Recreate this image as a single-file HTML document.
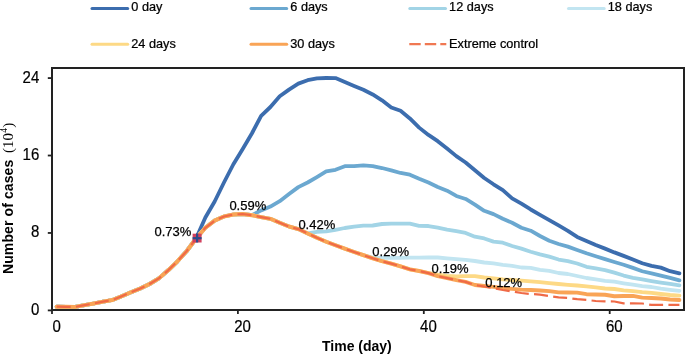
<!DOCTYPE html>
<html><head><meta charset="utf-8"><style>
html,body{margin:0;padding:0;background:#fff;}
body{width:685px;height:357px;overflow:hidden;}
svg{display:block;will-change:transform;}
text{font-family:"Liberation Sans",sans-serif;fill:#000;}
.tk{font-size:16.5px;stroke:#000;stroke-width:0.2px;}
.lg{font-size:13px;stroke:#000;stroke-width:0.25px;}
.ax{font-size:14px;font-weight:bold;}
.sf{font-family:"Liberation Serif",serif;font-size:15px;font-weight:normal;}
</style></head><body>
<svg width="685" height="357" viewBox="0 0 685 357">
<rect width="685" height="357" fill="#fff"/>
<line x1="92.0" y1="8.4" x2="127.7" y2="8.4" stroke="#3C6DAE" stroke-width="3" stroke-linecap="round"/>
<text transform="translate(131.3,11.2) scale(0.978,1)" class="lg">0 day</text>
<line x1="251.0" y1="8.4" x2="286.7" y2="8.4" stroke="#6BA8D0" stroke-width="3" stroke-linecap="round"/>
<text transform="translate(290.3,11.2) scale(0.978,1)" class="lg">6 days</text>
<line x1="409.8" y1="8.4" x2="445.5" y2="8.4" stroke="#A2D4E6" stroke-width="3" stroke-linecap="round"/>
<text transform="translate(449.1,11.2) scale(0.978,1)" class="lg">12 days</text>
<line x1="568.5" y1="8.4" x2="604.2" y2="8.4" stroke="#C2E5F1" stroke-width="3" stroke-linecap="round"/>
<text transform="translate(607.8,11.2) scale(0.978,1)" class="lg">18 days</text>
<line x1="92.0" y1="44.2" x2="127.7" y2="44.2" stroke="#FDD985" stroke-width="3" stroke-linecap="round"/>
<text transform="translate(131.3,47.7) scale(0.978,1)" class="lg">24 days</text>
<line x1="251.0" y1="44.2" x2="286.7" y2="44.2" stroke="#F9A456" stroke-width="3" stroke-linecap="round"/>
<text transform="translate(290.3,47.7) scale(0.978,1)" class="lg">30 days</text>
<line x1="409.3" y1="44.2" x2="446.3" y2="44.2" stroke="#F07852" stroke-width="2.2" stroke-dasharray="11.4 4.1"/>
<text transform="translate(449.1,47.7) scale(0.978,1)" class="lg">Extreme control</text>
<polyline points="56.65,306.70 65.94,306.80 75.24,306.90 84.53,305.20 93.83,303.50 103.12,301.70 112.42,300.00 121.71,296.20 131.01,292.30 140.30,288.50 149.60,284.00 158.89,278.40 168.19,270.30 177.48,261.30 186.78,251.00 196.07,238.50 205.37,217.50 214.66,201.50 223.96,182.50 233.25,164.50 242.55,149.20 251.84,133.50 261.14,115.80 270.43,107.00 279.73,96.30 289.02,89.60 298.32,83.60 307.61,80.20 316.91,78.40 326.20,78.00 335.50,78.10 344.79,82.01 354.09,85.93 363.38,89.79 372.68,94.44 381.97,100.31 391.27,107.45 400.56,110.83 409.86,118.46 419.15,127.63 428.45,134.93 437.74,141.17 447.04,148.57 456.33,156.13 465.63,162.45 474.92,170.23 484.22,178.01 493.51,184.28 502.81,190.09 512.10,198.37 521.40,203.68 530.69,209.48 539.99,214.84 549.28,220.12 558.58,225.47 567.87,230.89 577.17,236.96 586.46,240.94 595.76,245.01 605.05,248.62 614.35,252.39 623.64,255.88 632.94,259.48 642.23,263.28 651.53,265.92 660.82,267.63 670.12,271.16 679.41,273.30" fill="none" stroke="#3C6DAE" stroke-width="3.8" stroke-linejoin="round" stroke-linecap="round"/>
<polyline points="56.65,306.70 65.94,306.80 75.24,306.90 84.53,305.20 93.83,303.50 103.12,301.70 112.42,300.00 121.71,296.20 131.01,292.30 140.30,288.50 149.60,284.00 158.89,278.40 168.19,270.30 177.48,261.30 186.78,251.00 196.07,238.50 205.37,227.80 214.66,220.60 223.96,216.50 233.25,214.50 242.55,214.00 251.84,215.20 261.14,210.40 270.43,206.60 279.73,201.20 289.02,194.00 298.32,187.10 307.61,182.49 316.91,177.07 326.20,171.38 335.50,169.79 344.79,166.20 354.09,166.05 363.38,165.46 372.68,166.08 381.97,168.02 391.27,170.32 400.56,172.97 409.86,174.70 419.15,178.70 428.45,182.42 437.74,186.97 447.04,190.68 456.33,195.94 465.63,198.98 474.92,204.66 484.22,210.79 493.51,214.16 502.81,218.80 512.10,222.80 521.40,227.73 530.69,230.71 539.99,236.01 549.28,240.72 558.58,244.01 567.87,246.66 577.17,249.97 586.46,253.29 595.76,256.25 605.05,259.15 614.35,262.03 623.64,264.78 632.94,267.90 642.23,271.23 651.53,273.33 660.82,275.61 670.12,277.88 679.41,280.40" fill="none" stroke="#6BA8D0" stroke-width="3.8" stroke-linejoin="round" stroke-linecap="round"/>
<polyline points="56.65,306.70 65.94,306.80 75.24,306.90 84.53,305.20 93.83,303.50 103.12,301.70 112.42,300.00 121.71,296.20 131.01,292.30 140.30,288.50 149.60,284.00 158.89,278.40 168.19,270.30 177.48,261.30 186.78,251.00 196.07,238.50 205.37,227.80 214.66,220.60 223.96,216.50 233.25,214.50 242.55,214.00 251.84,215.20 261.14,217.10 270.43,218.80 279.73,222.80 289.02,226.50 298.32,229.10 307.61,233.40 316.91,231.90 326.20,231.40 335.50,229.80 344.79,228.00 354.09,226.60 363.38,225.60 372.68,225.50 381.97,224.00 391.27,223.60 400.56,223.60 409.86,223.70 419.15,225.80 428.45,226.02 437.74,227.66 447.04,229.64 456.33,231.21 465.63,232.94 474.92,236.67 484.22,238.46 493.51,241.61 502.81,242.68 512.10,246.02 521.40,248.65 530.69,251.70 539.99,254.40 549.28,256.69 558.58,259.54 567.87,261.09 577.17,263.49 586.46,266.80 595.76,268.26 605.05,270.06 614.35,272.67 623.64,275.53 632.94,277.78 642.23,279.37 651.53,281.02 660.82,282.57 670.12,283.97 679.41,285.30" fill="none" stroke="#A2D4E6" stroke-width="3.8" stroke-linejoin="round" stroke-linecap="round"/>
<polyline points="56.65,306.70 65.94,306.80 75.24,306.90 84.53,305.20 93.83,303.50 103.12,301.70 112.42,300.00 121.71,296.20 131.01,292.30 140.30,288.50 149.60,284.00 158.89,278.40 168.19,270.30 177.48,261.30 186.78,251.00 196.07,238.50 205.37,227.80 214.66,220.60 223.96,216.50 233.25,214.50 242.55,214.00 251.84,215.20 261.14,217.10 270.43,218.80 279.73,222.80 289.02,226.50 298.32,229.10 307.61,233.40 316.91,237.80 326.20,241.70 335.50,245.30 344.79,248.70 354.09,252.00 363.38,255.10 372.68,257.60 381.97,257.80 391.27,257.80 400.56,257.80 409.86,257.70 419.15,257.60 428.45,257.50 437.74,257.50 447.04,258.40 456.33,259.20 465.63,259.90 474.92,261.00 484.22,262.50 493.51,263.30 502.81,264.80 512.10,265.80 521.40,267.50 530.69,267.80 539.99,269.80 549.28,270.80 558.58,273.00 567.87,274.00 577.17,276.00 586.46,278.00 595.76,279.40 605.05,280.80 614.35,281.70 623.64,283.30 632.94,284.70 642.23,286.10 651.53,287.00 660.82,288.60 670.12,289.80 679.41,290.90" fill="none" stroke="#C2E5F1" stroke-width="3.8" stroke-linejoin="round" stroke-linecap="round"/>
<polyline points="56.65,306.70 65.94,306.80 75.24,306.90 84.53,305.20 93.83,303.50 103.12,301.70 112.42,300.00 121.71,296.20 131.01,292.30 140.30,288.50 149.60,284.00 158.89,278.40 168.19,270.30 177.48,261.30 186.78,251.00 196.07,238.50 205.37,227.80 214.66,220.60 223.96,216.50 233.25,214.50 242.55,214.00 251.84,215.20 261.14,217.10 270.43,218.80 279.73,222.80 289.02,226.50 298.32,229.10 307.61,233.40 316.91,237.80 326.20,241.70 335.50,245.30 344.79,248.70 354.09,252.00 363.38,255.10 372.68,258.30 381.97,261.20 391.27,263.60 400.56,266.40 409.86,269.30 419.15,271.00 428.45,273.00 437.74,274.60 447.04,275.80 456.33,276.30 465.63,276.20 474.92,276.10 484.22,277.50 493.51,278.30 502.81,279.30 512.10,280.00 521.40,280.60 530.69,281.30 539.99,282.10 549.28,283.10 558.58,284.00 567.87,284.80 577.17,285.50 586.46,286.30 595.76,287.30 605.05,288.50 614.35,289.00 623.64,290.30 632.94,291.20 642.23,292.20 651.53,292.90 660.82,294.00 670.12,295.00 679.41,295.60" fill="none" stroke="#FDD985" stroke-width="3.8" stroke-linejoin="round" stroke-linecap="round"/>
<polyline points="56.65,306.70 65.94,306.80 75.24,306.90 84.53,305.20 93.83,303.50 103.12,301.70 112.42,300.00 121.71,296.20 131.01,292.30 140.30,288.50 149.60,284.00 158.89,278.40 168.19,270.30 177.48,261.30 186.78,251.00 196.07,238.50 205.37,227.80 214.66,220.60 223.96,216.50 233.25,214.50 242.55,214.00 251.84,215.20 261.14,217.10 270.43,218.80 279.73,222.80 289.02,226.50 298.32,229.10 307.61,233.40 316.91,237.80 326.20,241.70 335.50,245.30 344.79,248.70 354.09,252.00 363.38,255.10 372.68,258.30 381.97,261.20 391.27,263.60 400.56,266.40 409.86,269.30 419.15,271.00 428.45,273.10 437.74,276.20 447.04,278.20 456.33,280.10 465.63,281.90 474.92,285.00 484.22,286.00 493.51,286.90 502.81,287.90 512.10,288.90 521.40,289.60 530.69,290.00 539.99,290.50 549.28,291.10 558.58,292.40 567.87,292.50 577.17,292.60 586.46,294.20 595.76,294.50 605.05,294.80 614.35,296.20 623.64,296.00 632.94,295.90 642.23,297.60 651.53,298.00 660.82,298.50 670.12,299.50 679.41,300.00" fill="none" stroke="#F9A456" stroke-width="3.9" stroke-linejoin="round" stroke-linecap="round"/>
<polyline points="56.65,306.70 65.94,306.80 75.24,306.90 84.53,305.20 93.83,303.50 103.12,301.70 112.42,300.00 121.71,296.20 131.01,292.30 140.30,288.50 149.60,284.00 158.89,278.40 168.19,270.30 177.48,261.30 186.78,251.00 196.07,238.50 205.37,227.80 214.66,220.60 223.96,216.50 233.25,214.50 242.55,214.00 251.84,215.20 261.14,217.10 270.43,218.80 279.73,222.80 289.02,226.50 298.32,229.10 307.61,233.40 316.91,237.80 326.20,241.70 335.50,245.30 344.79,248.70 354.09,252.00 363.38,255.10 372.68,258.30 381.97,261.20 391.27,263.60 400.56,266.40 409.86,269.30 419.15,271.00 428.45,273.10 437.74,276.20 447.04,278.20 456.33,280.10 465.63,281.90 474.92,285.00 484.22,286.50 493.51,288.20 502.81,290.00 512.10,291.50 521.40,293.00 530.69,294.00 539.99,294.60 549.28,296.00 558.58,297.40 567.87,298.00 577.17,299.20 586.46,299.90 595.76,301.00 605.05,301.30 614.35,301.50 623.64,303.40 632.94,303.40 642.23,303.50 651.53,304.90 660.82,304.90 670.12,304.90 679.41,304.90" fill="none" stroke="#EF6A47" stroke-width="2.2" stroke-dasharray="14 5.3" stroke-linejoin="round"/>
<rect x="192.6" y="233.7" width="9" height="8.8" fill="#D1415E"/>
<line x1="192.6" y1="238.2" x2="201.6" y2="238.2" stroke="#2C4C8C" stroke-width="2.2"/>
<line x1="197.1" y1="233.4" x2="197.1" y2="242.5" stroke="#2C4C8C" stroke-width="2.2"/>
<text x="154.5" y="236.2" class="lg">0.73%</text>
<text x="229.4" y="209.9" class="lg">0.59%</text>
<text x="298.4" y="229.0" class="lg">0.42%</text>
<text x="372.3" y="256.2" class="lg">0.29%</text>
<text x="431.6" y="272.9" class="lg">0.19%</text>
<text x="485.3" y="287.1" class="lg">0.12%</text>
<path d="M52,68 H684 V310 H52 Z" fill="none" stroke="#222" stroke-width="2"/>
<line x1="47.8" y1="310.40" x2="52" y2="310.40" stroke="#222" stroke-width="1.8"/>
<text transform="translate(39.3,314.90) scale(0.91,1)" text-anchor="end" class="tk">0</text>
<line x1="47.8" y1="232.96" x2="52" y2="232.96" stroke="#222" stroke-width="1.8"/>
<text transform="translate(39.3,237.46) scale(0.91,1)" text-anchor="end" class="tk">8</text>
<line x1="47.8" y1="155.52" x2="52" y2="155.52" stroke="#222" stroke-width="1.8"/>
<text transform="translate(39.3,160.02) scale(0.91,1)" text-anchor="end" class="tk">16</text>
<line x1="47.8" y1="78.08" x2="52" y2="78.08" stroke="#222" stroke-width="1.8"/>
<text transform="translate(39.3,82.58) scale(0.91,1)" text-anchor="end" class="tk">24</text>
<line x1="52.00" y1="310" x2="52.00" y2="314" stroke="#222" stroke-width="1.8"/>
<text transform="translate(56.65,332.2) scale(0.91,1)" text-anchor="middle" class="tk">0</text>
<line x1="237.90" y1="310" x2="237.90" y2="314" stroke="#222" stroke-width="1.8"/>
<text transform="translate(242.55,332.2) scale(0.91,1)" text-anchor="middle" class="tk">20</text>
<line x1="423.80" y1="310" x2="423.80" y2="314" stroke="#222" stroke-width="1.8"/>
<text transform="translate(428.45,332.2) scale(0.91,1)" text-anchor="middle" class="tk">40</text>
<line x1="609.70" y1="310" x2="609.70" y2="314" stroke="#222" stroke-width="1.8"/>
<text transform="translate(614.35,332.2) scale(0.91,1)" text-anchor="middle" class="tk">60</text>
<text x="356.9" y="351" text-anchor="middle" class="ax">Time (day)</text>
<text transform="translate(13.4,274) rotate(-90)" class="ax"><tspan style="letter-spacing:0.1px">Number of cases</tspan><tspan class="sf" dx="6.7">(10</tspan><tspan class="sf" style="font-size:9.5px" dx="0.3" dy="-6.5">4</tspan><tspan class="sf" dx="0.3" dy="6.5">)</tspan></text>
</svg>
</body></html>
